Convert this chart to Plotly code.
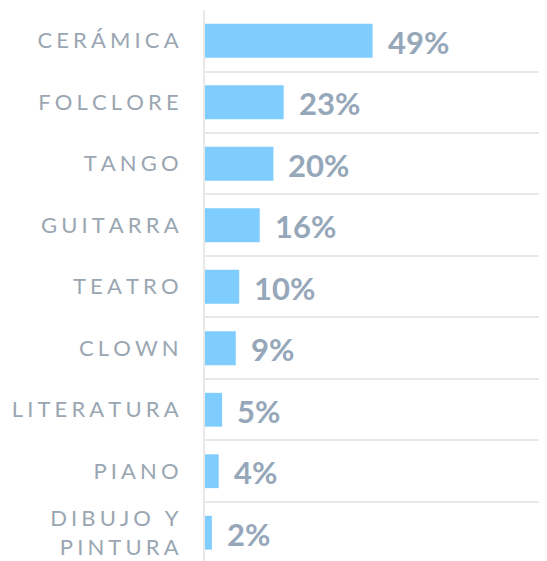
import plotly.graph_objects as go

categories = ["CERÁMICA", "FOLCLORE", "TANGO", "GUITARRA", "TEATRO",
              "CLOWN", "LITERATURA", "PIANO", "DIBUJO Y<br>PINTURA"]
values = [49, 23, 20, 16, 10, 9, 5, 4, 2]
value_labels = ["49%", "23%", "20%", "16%", "10%", "9%", "5%", "4%", "2%"]

BAR_COLOR = "#7FCDFF"
LABEL_COLOR = "#9AA6B2"
VALUE_COLOR = "#95A7B9"
GRID_COLOR = "#E8E8E8"


def spaced(text, sp="\u2009\u200a"):
    return "<br>".join(sp.join(list(line)) for line in text.split("<br>"))


cats_sp = [spaced(c) for c in categories]

fig = go.Figure()
fig.add_trace(go.Bar(
    x=values, y=cats_sp, orientation="h",
    marker=dict(color=BAR_COLOR, line=dict(width=0)),
    hoverinfo="skip",
))

for v, c, t in zip(values, cats_sp, value_labels):
    fig.add_annotation(
        x=v, y=c, text=t, showarrow=False, xanchor="left", yanchor="middle",
        xshift=13, yshift=-1,
        font=dict(family="Lato", size=31, color=VALUE_COLOR, weight="bold"),
    )

# page body has an 8px margin, so the figure is offset by 8px
fig.update_layout(
    width=539, height=553,
    margin=dict(l=197, r=0, t=2, b=0, pad=0),
    plot_bgcolor="white", paper_bgcolor="white",
    bargap=0.45, showlegend=False,
    font=dict(family="Lato"),
)
fig.update_xaxes(range=[0, 100], showgrid=False, zeroline=False,
                 showticklabels=False, ticks="", fixedrange=True)
fig.update_yaxes(
    type="category", range=[8.46, -0.5], tickson="boundaries",
    showgrid=True, gridcolor=GRID_COLOR, gridwidth=2,
    showline=True, linecolor=GRID_COLOR, linewidth=2,
    ticks="", ticklabelstandoff=20,
    tickfont=dict(family="Lato", size=22, color=LABEL_COLOR),
)

fig.write_html("out.html")
